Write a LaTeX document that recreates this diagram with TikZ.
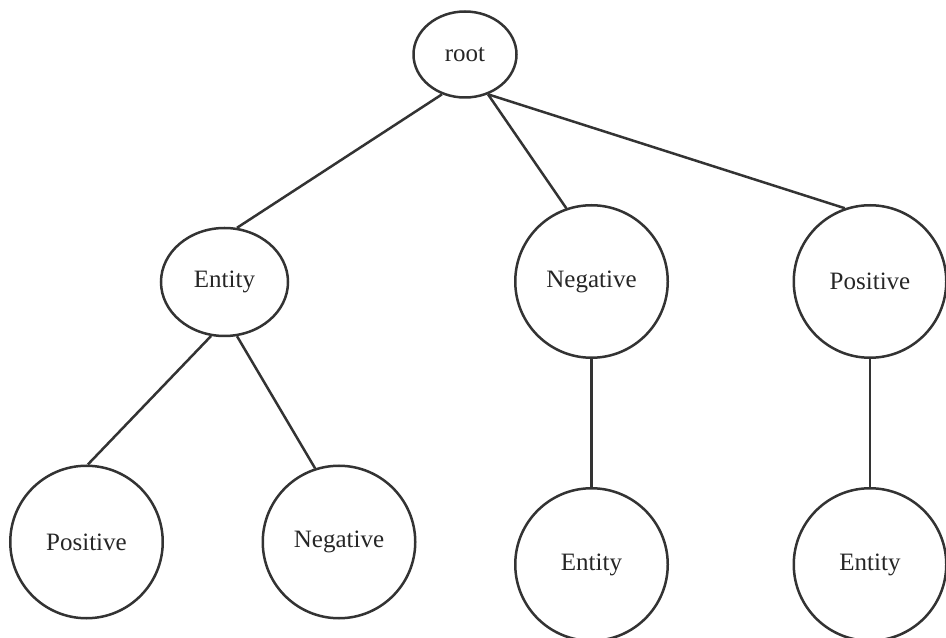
\documentclass[tikz,border=0pt]{standalone}
\usepackage{fontspec}
\setmainfont{Liberation Serif}
\usetikzlibrary{shapes, arrows, positioning}

\begin{document}
\begin{tikzpicture}[x=0.4pt, y=-0.4pt, node distance=51.2pt]
    \tikzstyle{leaf} = [ellipse, draw=black!80, line width=1pt, text=black!85, inner sep=0pt, minimum width=61pt, minimum height=61pt, font=\fontsize{10}{12}\selectfont]
    \tikzstyle{edge} = [draw=black!80, line width=1pt]
    \useasboundingbox (0,0) rectangle (946,638);

    \node [leaf, minimum width=41.2pt, minimum height=34.4pt] (root) at (465,54.5) {root};
    \node [leaf, minimum width=50.8pt, minimum height=43.2pt] (entity) at (224.5,282) {Entity};
    \node [leaf] (neg) at (591.5,281.5) {Negative};
    \node [leaf] (pos) at (870,281.5) {Positive};
    \node [leaf] (entpos) at (86.5,542) {Positive};
    \node [leaf] (entneg) at (339,542) {Negative};
    \node [leaf, below=of neg] (negent) {Entity};
    \node [leaf, below=of pos] (posent) {Entity};

    \draw [edge] (root.240) -- (entity.77);
    \draw [edge] (root.300) -- (neg.109);
    \draw [edge] (root.300) -- (pos.109);
    \draw [edge] (entity.256) -- (entpos.89);
    \draw [edge] (entity.283) -- (entneg.108);
    \draw [edge] (neg) -- (negent);
    \draw [edge] (pos) -- (posent);
\end{tikzpicture}
\end{document}
